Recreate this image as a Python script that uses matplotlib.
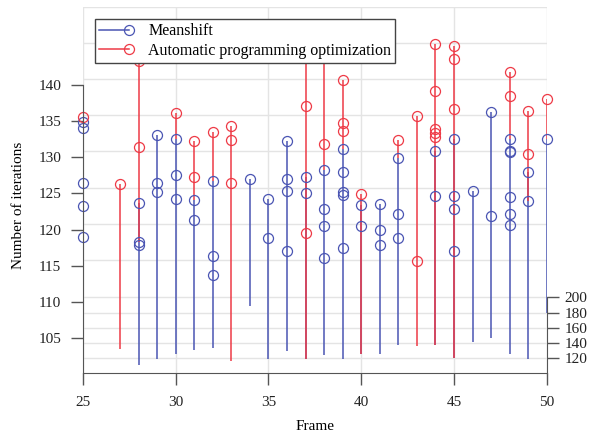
import matplotlib
matplotlib.use("Agg")
import matplotlib.pyplot as plt
from matplotlib.lines import Line2D
from matplotlib.legend_handler import HandlerLine2D
import numpy as np

# ---- data ---------------------------------------------------------------
FRAMES = list(range(25, 51))

# Meanshift points (frame, iterations)
MS_FRAME = [25, 25, 25, 25, 25,
            28, 28, 28,
            29, 29, 29,
            30, 30, 30,
            31, 31,
            32, 32, 32,
            34,
            35, 35,
            36, 36, 36, 36,
            37, 37,
            38, 38, 38, 38,
            39, 39, 39, 39, 39,
            40, 40,
            41, 41, 41,
            42, 42, 42,
            44, 44,
            45, 45, 45, 45,
            46,
            47, 47,
            48, 48, 48, 48, 48, 48,
            49, 49,
            50]
MS_ITER = [134.9, 134.0, 126.4, 123.3, 119.0,
           123.7, 118.3, 117.9,
           133.1, 126.5, 125.2,
           132.5, 127.6, 124.3,
           124.1, 121.3,
           126.7, 116.3, 113.7,
           127.0,
           124.2, 118.9,
           132.3, 127.0, 125.4, 117.1,
           127.3, 125.0,
           128.2, 122.9, 120.5, 116.1,
           131.2, 128.0, 125.2, 124.8, 117.5,
           123.4, 120.5,
           123.6, 119.9, 117.9,
           129.9, 122.1, 118.9,
           130.8, 124.7,
           132.5, 124.6, 122.9, 117.0,
           125.4,
           136.2, 121.9,
           132.5, 130.9, 130.7, 124.5, 122.1, 120.7,
           128.0, 124.0,
           132.5]

# Automatic programming optimization points
APO_FRAME = [25, 27, 28, 28, 30, 31, 31, 32, 33, 33, 33,
             37, 37, 37, 38, 38, 39, 39, 39, 40, 42, 43, 43,
             44, 44, 44, 44, 44, 45, 45, 45, 48, 48, 49, 49, 50]
APO_ITER = [135.5, 126.3, 143.3, 131.4, 136.1, 132.2, 127.3, 133.5,
            134.3, 132.4, 126.5,
            147.5, 137.1, 119.6, 147.5, 131.9, 140.7, 134.8, 133.6,
            124.9, 132.4, 135.7, 115.7,
            145.6, 139.2, 133.9, 133.3, 132.8, 145.3, 143.6, 136.7,
            141.8, 138.5, 136.4, 130.4, 138.0]

# where each stem meets the floor (None = no stem drawn), per frame 25..50
MS_FLOOR = [None, None, None, 101.3, 102.2, 102.8, 103.4, 103.6, None, 109.4,
            102.1, 103.2, 102.2, 102.7, 102.1, 102.9, 102.9, 104.1, None, 104.1,
            102.3, 104.5, 105.1, 102.9, 102.2, 108.5]
APO_FLOOR = [None, None, 103.5, 118.3, None, 132.5, 124.1, 126.7, 101.9, None,
             None, None, 102.2, 128.2, 131.2, 102.9, None, 129.9, 103.9, 104.1,
             102.3, None, None, 132.5, 124.0, 132.5]

DEPTH_TICKS = [120, 140, 160, 180, 200]

BLUE = "#4a55b3"
RED = "#ee3a46"
GRID = "#e4e4e4"
SPINE = "#555555"

plt.rcParams.update({
    "font.family": ["Liberation Serif", "DejaVu Serif"],
    "font.size": 11,
})

YLO, YHI = 100.21, 150.76


def depth_to_y(d):
    # floor projection of the depth axis onto the iteration axis
    return 102.28 + (np.asarray(d) - 120) / 9.57


class EndMarkerHandler(HandlerLine2D):
    """legend line with the marker sitting at its right end"""

    def create_artists(self, legend, orig_handle, xdescent, ydescent,
                       width, height, fontsize, trans):
        y = height / 2 - ydescent
        line = Line2D([-xdescent, width - xdescent], [y, y])
        line.update_from(orig_handle)
        line.set_marker("None")
        mark = Line2D([width - xdescent], [y])
        mark.update_from(orig_handle)
        mark.set_linestyle("None")
        line.set_transform(trans)
        mark.set_transform(trans)
        return [line, mark]


fig = plt.figure(figsize=(5.96, 4.34), dpi=100)
ax = fig.add_axes([0.139, 0.1406, 0.7785, 0.8434])
ax.set_xlim(25, 50)
ax.set_ylim(YLO, YHI)

# grid: vertical, back wall, floor
ax.set_xticks([25, 30, 35, 40, 45, 50])
ax.grid(axis="x", color=GRID, lw=1)
for v in np.arange(115.8, 151, 5):
    ax.axhline(v, color=GRID, lw=1, zorder=0.5)
for v in depth_to_y(DEPTH_TICKS):
    ax.axhline(v, color=GRID, lw=1, zorder=0.5)


def stems(frames, vals, floors, color, z):
    frames = np.array(frames)
    vals = np.array(vals)
    xs, lo, hi = [], [], []
    for f, fl in zip(FRAMES, floors):
        if fl is None:
            continue
        sel = vals[frames == f]
        if len(sel) == 0:
            continue
        xs.append(f)
        lo.append(fl)
        hi.append(sel.max())
    ax.vlines(xs, lo, hi, color=color, lw=1.1, zorder=z)


stems(MS_FRAME, MS_ITER, MS_FLOOR, BLUE, 2)
stems(APO_FRAME, APO_ITER, APO_FLOOR, RED, 2.1)
ax.plot(MS_FRAME, MS_ITER, ls="none", marker="o", ms=7.2, mfc="none",
        mec=BLUE, mew=0.9, zorder=3, clip_on=False)
ax.plot(APO_FRAME, APO_ITER, ls="none", marker="o", ms=7.2, mfc="none",
        mec=RED, mew=0.9, zorder=3.1, clip_on=False)

# axes cosmetics
for s in ("top", "right"):
    ax.spines[s].set_visible(False)
ax.spines["left"].set_bounds(YLO, 140)
ax.spines["left"].set_color(SPINE)
ax.spines["bottom"].set_color(SPINE)
ax.spines["left"].set_zorder(4)
ax.set_yticks([105, 110, 115, 120, 125, 130, 135, 140])
ax.tick_params(axis="both", length=8.5, width=1, color=SPINE,
               labelsize=11, colors="#222222")
ax.tick_params(axis="x", pad=8)
ax.tick_params(axis="y", pad=7)
ax.set_xlabel("Frame", fontsize=11, labelpad=8)
ax.set_ylabel("Number of iterations", fontsize=11)
ax.yaxis.set_label_coords(-0.125, 0.457)

# depth axis on the right, bottom part only
ax2 = ax.twinx()
ax2.set_ylim(120 + (YLO - 102.28) * 9.57, 120 + (YHI - 102.28) * 9.57)
ax2.set_yticks(DEPTH_TICKS)
for s in ("top", "left", "bottom"):
    ax2.spines[s].set_visible(False)
ax2.spines["right"].set_bounds(ax2.get_ylim()[0], 200)
ax2.spines["right"].set_color(SPINE)
ax2.set_zorder(-1)
ax.set_zorder(1)
ax.patch.set_visible(False)
ax2.tick_params(axis="y", length=8.5, width=1, color=SPINE, labelsize=11,
                colors="#222222", pad=4)

handles = [
    Line2D([], [], color=BLUE, lw=1.1, marker="o", ms=7.2,
           mfc="none", mec=BLUE, mew=0.9),
    Line2D([], [], color=RED, lw=1.1, marker="o", ms=7.2,
           mfc="none", mec=RED, mew=0.9),
]
leg = ax.legend(handles, ["Meanshift", "Automatic programming optimization"],
                loc="upper left", bbox_to_anchor=(0.026, 0.966),
                handler_map={Line2D: EndMarkerHandler()},
                fancybox=False, framealpha=1, edgecolor="#444444",
                borderpad=0.25, labelspacing=0.2, handlelength=1.9,
                handletextpad=1.2, fontsize=11.5, borderaxespad=0)
leg.get_frame().set_linewidth(1)
leg.set_zorder(10)

fig.savefig("out.png", dpi=100)
